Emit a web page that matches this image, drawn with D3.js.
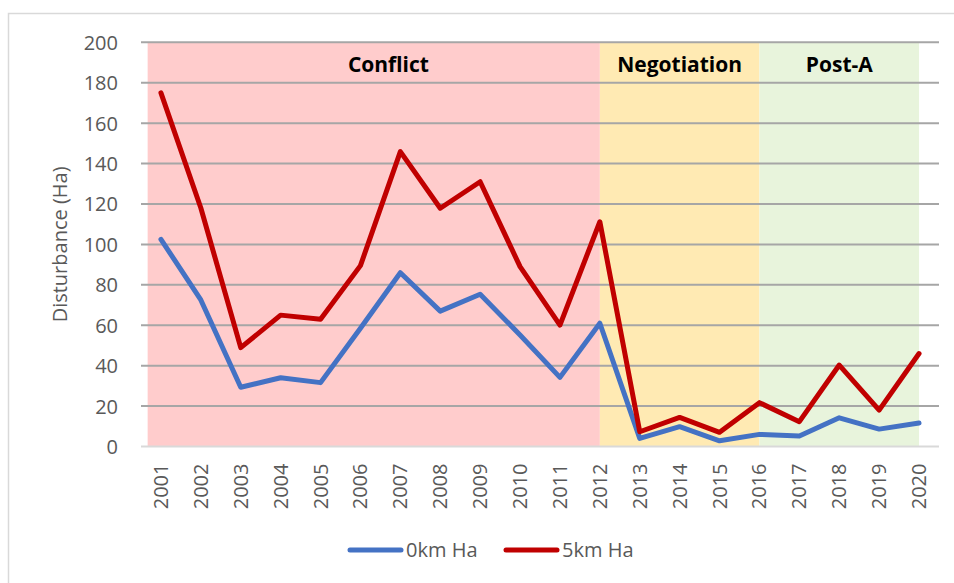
<!DOCTYPE html>
<html>
<head>
<meta charset="utf-8">
<script src="https://cdn.jsdelivr.net/npm/d3@7"></script>
<style>
  body { margin: 0; background: #fff; }
  text { font-family: "Open Sans", "DejaVu Sans", sans-serif; }
</style>
</head>
<body>
<svg id="chart" width="954" height="583"></svg>
<script>
// data
var years = ['2001','2002','2003','2004','2005','2006','2007','2008','2009','2010',
             '2011','2012','2013','2014','2015','2016','2017','2018','2019','2020'];
var ha0km = [102.5, 72.5, 29.3, 34, 31.6, 58.5, 86, 67, 75.3, 55.2,
             34.2, 61, 4, 9.8, 2.8, 6, 5.2, 14.2, 8.6, 11.6];
var ha5km = [175, 118, 48.9, 65, 63, 89.5, 145.9, 117.9, 131, 89,
             60.1, 111.2, 7.3, 14.4, 7, 21.7, 12.3, 40.3, 18, 46];
var periodNames = ['Conflict', 'Negotiation', 'Post-A'];
var periodFrom = ['2001', '2012', '2016'];
var periodTo = ['2012', '2016', '2020'];
var periodColors = ['#ffcccc', '#ffeab3', '#e8f4dc'];
var yTicks = [0, 20, 40, 60, 80, 100, 120, 140, 160, 180, 200];
var seriesNames = ['0km Ha', '5km Ha'];
var seriesColors = ['#4472c4', '#c00000'];

var svg = d3.select('#chart');
var plotLeft = 141, plotRight = 939, plotTop = 42.3, plotBottom = 446.5;

// chart border (only top/left show in the frame)
svg.append('rect')
    .attr('x', 8.5).attr('y', 13.5)
    .attr('width', 980).attr('height', 600)
    .style('fill', 'none').style('stroke', '#d9d9d9').style('stroke-width', 1.5);

var x = d3.scaleBand().domain(years).range([plotLeft, plotRight]);
var y = d3.scaleLinear().domain([0, 200]).range([plotBottom, plotTop]);
var cx = function(yr){ return x(yr) + x.bandwidth() / 2; };

// period background bands
periodNames.forEach(function(name, i){
    var x0 = cx(periodFrom[i]);
    if (i == 0) x0 = x0 - x.bandwidth() / 3;
    var x1 = cx(periodTo[i]);
    svg.append('rect')
        .attr('x', x0).attr('y', y(200))
        .attr('width', x1 - x0).attr('height', y(0) - y(200))
        .style('fill', periodColors[i]);
});

// gridlines
svg.append('g').selectAll('line')
    .data(yTicks.slice(1))
    .enter().append('line')
    .attr('x1', plotLeft).attr('x2', plotRight)
    .attr('y1', function(d){ return y(d); })
    .attr('y2', function(d){ return y(d); })
    .style('stroke', '#a6a6a6').style('stroke-width', 2);
svg.append('line')
    .attr('x1', plotLeft).attr('x2', plotRight)
    .attr('y1', y(0)).attr('y2', y(0))
    .style('stroke', '#d9d9d9').style('stroke-width', 2);

// period labels
periodNames.forEach(function(name, i){
    svg.append('text')
        .attr('x', (cx(periodFrom[i]) + cx(periodTo[i])) / 2 + (i == 0 ? 8 : 0))
        .attr('y', 72)
        .attr('text-anchor', 'middle')
        .style('font-size', '21px').style('font-weight', 'bold')
        .style('fill', '#000')
        .text(name);
});

// y axis labels
var yAxis = d3.axisLeft(y).tickValues(yTicks).tickSize(0).tickPadding(0);
var gy = svg.append('g').attr('transform', 'translate(118,0)').call(yAxis);
gy.select('.domain').remove();
gy.selectAll('text')
    .style('font-size', '20px').style('fill', '#595959')
    .style('font-family', '"Open Sans", sans-serif')
    .attr('dy', '0.35em');

// x axis labels, rotated
var xAxis = d3.axisBottom(x).tickSize(0).tickPadding(0);
var gx = svg.append('g').attr('transform', 'translate(0,' + plotBottom + ')').call(xAxis);
gx.select('.domain').remove();
gx.selectAll('text')
    .attr('transform', 'rotate(-90)')
    .attr('x', -17).attr('y', 0).attr('dy', '0.35em')
    .attr('text-anchor', 'end')
    .style('font-size', '20px').style('fill', '#595959')
    .style('font-family', '"Open Sans", sans-serif');

// axis title
svg.append('text')
    .attr('transform', 'translate(60,' + ((plotTop + plotBottom) / 2) + ') rotate(-90)')
    .attr('text-anchor', 'middle')
    .attr('dy', '0.35em')
    .style('font-size', '20px').style('fill', '#595959')
    .text('Disturbance (Ha)');

// lines
var line = d3.line()
    .x(function(d, i){ return cx(years[i]); })
    .y(function(d){ return y(d); });
[ha0km, ha5km].forEach(function(vals, i){
    svg.append('path')
        .datum(vals)
        .attr('d', line)
        .style('fill', 'none')
        .style('stroke', seriesColors[i])
        .style('stroke-width', 5)
        .style('stroke-linejoin', 'round')
        .style('stroke-linecap', 'round');
});

// legend
var legendX = [348, 504];
seriesNames.forEach(function(name, i){
    svg.append('line')
        .attr('x1', legendX[i] + 2).attr('x2', legendX[i] + 53)
        .attr('y1', 550).attr('y2', 550)
        .style('stroke', seriesColors[i]).style('stroke-width', 5)
        .style('stroke-linecap', 'round');
    svg.append('text')
        .attr('x', legendX[i] + 58).attr('y', 550)
        .attr('dy', '0.35em')
        .style('font-size', '20px').style('fill', '#595959')
        .text(name);
});
</script>
</body>
</html>
